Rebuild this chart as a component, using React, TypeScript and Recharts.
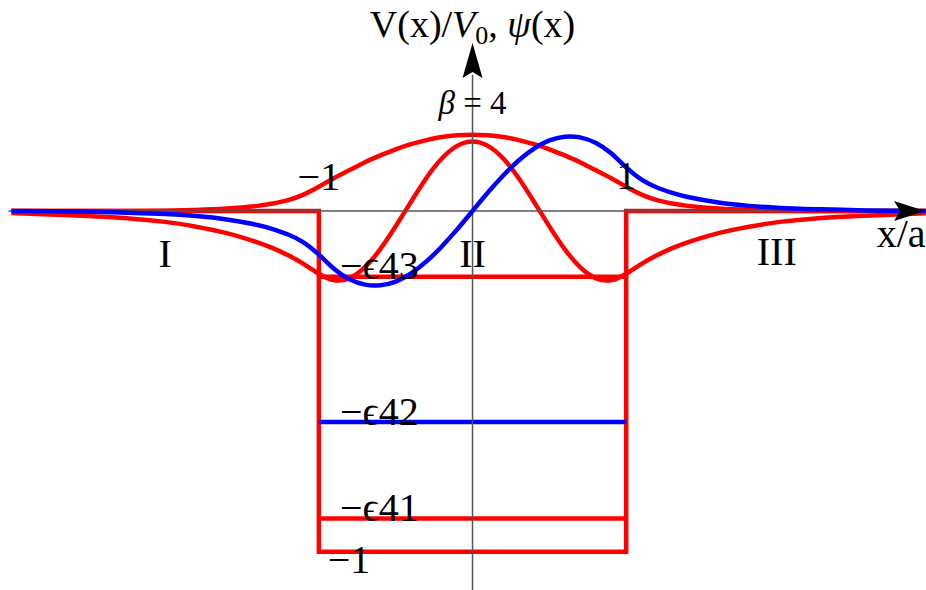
import React from 'react';
import { LineChart, Line, XAxis, YAxis, ReferenceLine, ReferenceDot } from 'recharts';

// x/a sample points
const xs = [
  -3.0, -2.75, -2.5, -2.25, -2.0, -1.8, -1.6, -1.4, -1.3, -1.2, -1.1,
  -1.0, -0.9, -0.8, -0.7, -0.6, -0.5, -0.4, -0.3, -0.2, -0.1, 0,
  0.1, 0.2, 0.3, 0.4, 0.5, 0.6, 0.7, 0.8, 0.9, 1.0,
  1.1, 1.2, 1.3, 1.4, 1.6, 1.8, 2.0, 2.25, 2.5, 2.75, 2.95,
];

// ground state (red, broad bump)
const psi1 = [
  0, 0, 0, 0, 0.001, 0.003, 0.007, 0.015, 0.022, 0.032, 0.048,
  0.071, 0.097, 0.12, 0.143, 0.163, 0.181, 0.196, 0.208, 0.217, 0.222, 0.224,
  0.222, 0.217, 0.208, 0.196, 0.181, 0.163, 0.143, 0.12, 0.097, 0.071,
  0.048, 0.032, 0.022, 0.015, 0.007, 0.003, 0.001, 0, 0, 0, 0,
];

// first excited state (blue, odd)
const psi2 = [
  0, -0.001, -0.002, -0.005, -0.009, -0.015, -0.025, -0.041, -0.053, -0.069, -0.092,
  -0.128, -0.17, -0.2, -0.216, -0.218, -0.207, -0.183, -0.148, -0.104, -0.054, 0,
  0.054, 0.104, 0.148, 0.183, 0.207, 0.218, 0.216, 0.2, 0.17, 0.128,
  0.092, 0.069, 0.053, 0.041, 0.025, 0.015, 0.009, 0.005, 0.002, 0.001, 0,
];

// second excited state (red, two nodes)
const psi3 = [
  -0.006, -0.01, -0.015, -0.021, -0.032, -0.046, -0.065, -0.092, -0.109, -0.13, -0.155,
  -0.184, -0.203, -0.197, -0.165, -0.112, -0.045, 0.027, 0.097, 0.154, 0.191, 0.204,
  0.191, 0.154, 0.097, 0.027, -0.045, -0.112, -0.165, -0.197, -0.203, -0.184,
  -0.155, -0.13, -0.109, -0.092, -0.065, -0.046, -0.032, -0.021, -0.015, -0.01, -0.007,
];

// square well potential V(x)/V0
const wellX = [-3.0, -1, -1, 1, 1, 2.95];
const wellV = [0, 0, -1, -1, 0, 0];

// energy levels -eps41, -eps42, -eps43
const levelNames = ['−ϵ41', '−ϵ42', '−ϵ43'];
const levelValues = [-0.902, -0.619, -0.193];
const levelColors = ['#ff0000', '#0000ff', '#ff0000'];

const waveData = xs.map((x, i) => ({ x, psi1: psi1[i], psi2: psi2[i], psi3: psi3[i] }));
const wellData = wellX.map((x, i) => ({ x, v: wellV[i] }));
const levelData = levelValues.map((e) => [
  { x: -1, e },
  { x: 1, e },
]);

const FONT = "'Liberation Serif', 'Times New Roman', serif";
const LW = 4.5;

const textAt = (content: React.ReactNode, size: number, anchor: 'start' | 'middle' | 'end' = 'middle') =>
  (p: any) => (
    <text x={p.cx} y={p.cy} fontFamily={FONT} fontSize={size} textAnchor={anchor} fill="#000">
      {content}
    </text>
  );

const arrowRight = (p: any) => (
  <polygon
    points={`${p.cx},${p.cy} ${p.cx - 31},${p.cy - 10} ${p.cx - 25},${p.cy} ${p.cx - 31},${p.cy + 10}`}
    fill="#000"
  />
);

const arrowUp = (p: any) => (
  <polygon
    points={`${p.cx},${p.cy} ${p.cx - 10},${p.cy + 35} ${p.cx},${p.cy + 29} ${p.cx + 10},${p.cy + 35}`}
    fill="#000"
  />
);

export default function App() {
  return (
    <div style={{ position: 'absolute', left: 0, top: 0, width: 926, height: 590, background: '#fff' }}>
      <LineChart width={926} height={590} margin={{ top: 0, right: 0, bottom: 0, left: 0 }}>
        <XAxis type="number" dataKey="x" domain={[-3.075, 2.951]} allowDataOverflow hide />
        <YAxis type="number" domain={[-1.112, 0.619]} allowDataOverflow hide />

        <Line data={wellData} dataKey="v" type="linear" stroke="#ff0000" strokeWidth={LW}
          dot={false} activeDot={false} isAnimationActive={false} />
        {levelData.map((d, i) => (
          <Line key={levelNames[i]} data={d} dataKey="e" type="linear" stroke={levelColors[i]}
            strokeWidth={LW} dot={false} activeDot={false} isAnimationActive={false} />
        ))}
        <Line data={waveData} dataKey="psi1" type="natural" stroke="#ff0000" strokeWidth={LW}
          dot={false} activeDot={false} isAnimationActive={false} />
        <Line data={waveData} dataKey="psi3" type="natural" stroke="#ff0000" strokeWidth={LW}
          dot={false} activeDot={false} isAnimationActive={false} />

        <ReferenceLine segment={[{ x: -3.02, y: 0 }, { x: 2.8, y: 0 }]} stroke="#555" strokeWidth={1.5} />
        <ReferenceLine segment={[{ x: 0, y: -1.112 }, { x: 0, y: 0.4 }]} stroke="#555" strokeWidth={1.5} />

        <Line data={waveData} dataKey="psi2" type="natural" stroke="#0000ff" strokeWidth={LW}
          dot={false} activeDot={false} isAnimationActive={false} />

        <ReferenceDot x={2.945} y={0} r={0} shape={arrowRight} />
        <ReferenceDot x={0} y={0.493} r={0} shape={arrowUp} />

        <ReferenceDot x={0} y={0.511} r={0} shape={textAt(
          <>
            <tspan>V(x)/</tspan>
            <tspan fontStyle="italic">V</tspan>
            <tspan fontSize={26} dy={7}>0</tspan>
            <tspan dy={-7}>, </tspan>
            <tspan fontStyle="italic">ψ</tspan>
            <tspan>(x)</tspan>
          </>, 38)} />
        <ReferenceDot x={0} y={0.285} r={0} shape={textAt(
          <>
            <tspan fontStyle="italic">β</tspan>
            <tspan> = 4</tspan>
          </>, 33)} />
        <ReferenceDot x={-1} y={0.062} r={0} shape={textAt('−1', 40)} />
        <ReferenceDot x={1} y={0.065} r={0} shape={textAt('1', 40)} />
        <ReferenceDot x={2.63} y={-0.106} r={0} shape={textAt('x/a', 40, 'start')} />
        <ReferenceDot x={-2.0} y={-0.164} r={0} shape={textAt('I', 40)} />
        <ReferenceDot x={0} y={-0.164} r={0} shape={textAt('II', 40)} />
        <ReferenceDot x={1.98} y={-0.158} r={0} shape={textAt('III', 40)} />
        {levelValues.map((e, i) => (
          <ReferenceDot key={'lab' + i} x={-0.863} y={e - 0.007 - (i === 2 ? 0 : 0.002)} r={0}
            shape={textAt(levelNames[i], 40, 'start')} />
        ))}
        <ReferenceDot x={-0.942} y={-1.063} r={0} shape={textAt('−1', 40, 'start')} />
      </LineChart>
    </div>
  );
}
